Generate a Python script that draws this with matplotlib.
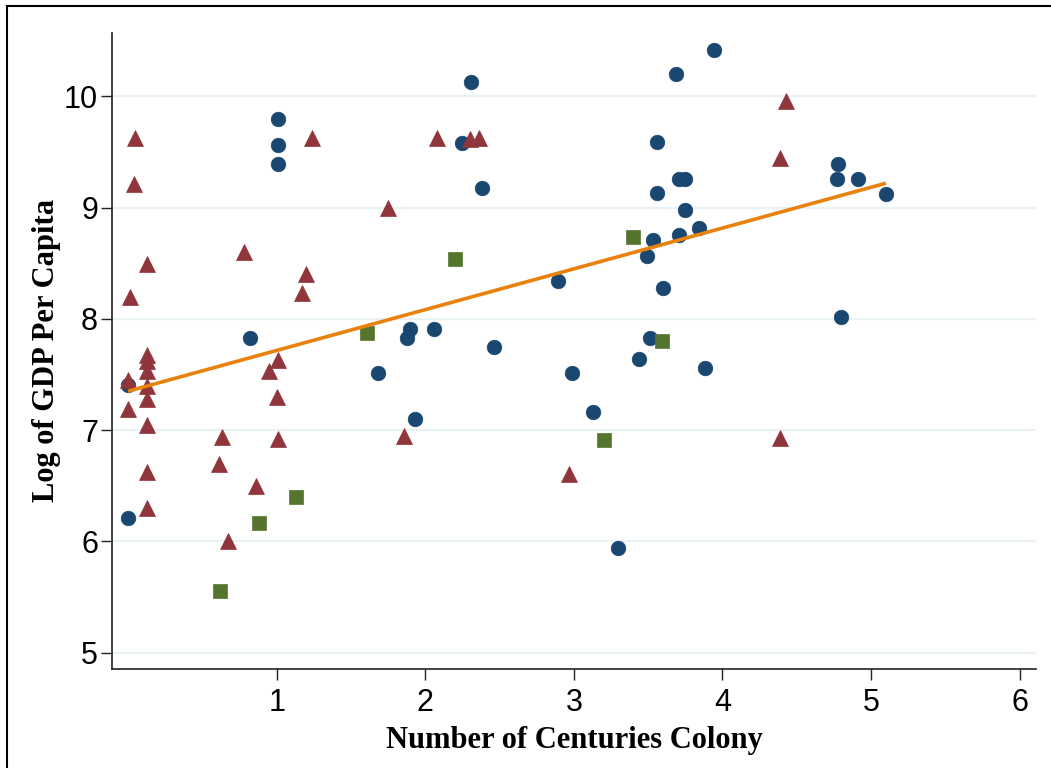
import matplotlib
matplotlib.use("Agg")
import matplotlib.pyplot as plt
from matplotlib.lines import Line2D

# ---- data ----
circle_x = [0.00, 0.00, 1.01, 1.01, 1.01, 0.82, 2.31, 2.25, 2.38, 1.90, 1.88, 2.06, 2.46,
            2.89, 1.68, 1.93, 2.99, 3.13, 3.30, 3.51, 3.44, 3.88, 3.94, 3.69, 3.56, 3.71,
            3.75, 3.56, 3.75, 3.84, 3.71, 3.53, 3.49, 3.60, 4.80, 4.78, 4.77, 4.91, 5.10]
circle_y = [6.21, 7.41, 9.80, 9.56, 9.39, 7.83, 10.13, 9.58, 9.18, 7.91, 7.83, 7.91, 7.75,
            8.34, 7.51, 7.10, 7.51, 7.16, 5.94, 7.83, 7.64, 7.56, 10.42, 10.20, 9.59, 9.26,
            9.26, 9.13, 8.98, 8.82, 8.75, 8.71, 8.57, 8.28, 8.02, 9.39, 9.26, 9.26, 9.12]

tri_x = [0.05, 0.04, 0.13, 0.01, 0.78, 1.20, 1.17, 1.24, 1.75, 2.08, 2.30, 2.36, 4.43,
         4.39, 4.39, 2.97, 1.86, 0.13, 0.13, 0.13, 0.00, 0.13, 0.13, 0.00, 0.13, 0.13,
         0.13, 1.01, 0.95, 1.00, 1.01, 0.63, 0.61, 0.86, 0.67]
tri_y = [9.63, 9.21, 8.49, 8.20, 8.60, 8.40, 8.23, 9.63, 9.00, 9.63, 9.62, 9.63, 9.96,
         9.45, 6.93, 6.61, 6.95, 7.68, 7.62, 7.53, 7.45, 7.40, 7.28, 7.19, 7.05, 6.62,
         6.30, 7.63, 7.53, 7.30, 6.92, 6.94, 6.70, 6.50, 6.00]

sq_x = [0.62, 0.88, 1.13, 1.61, 2.20, 3.40, 3.59, 3.20]
sq_y = [5.55, 6.17, 6.40, 7.87, 8.54, 8.74, 7.80, 6.91]

fit_x = [0.00, 5.10]
fit_y = [7.35, 9.22]

x_ticks = [1, 2, 3, 4, 5, 6]
y_ticks = [5, 6, 7, 8, 9, 10]

x_label = "Number of Centuries Colony"
y_label = "Log of GDP Per Capita"

# ---- styling ----
NAVY = "#1a476f"
MAROON = "#90353b"
GREEN = "#55752f"
ORANGE = "#e8820c"
GRID = "#eaf2f3"

fig = plt.figure(figsize=(10.51, 7.68), dpi=100)
fig.patch.set_facecolor("white")
ax = fig.add_axes([112/1051, 1 - 668.7/768, (1036 - 112)/1051, (668.7 - 33)/768])

ax.plot(circle_x, circle_y, linestyle="none", marker="o", ms=10.5,
        mfc=NAVY, mec=NAVY, mew=0.5, zorder=3)
ax.plot(tri_x, tri_y, linestyle="none", marker="^", ms=11.5,
        mfc=MAROON, mec=MAROON, mew=0.5, zorder=4)
ax.plot(sq_x, sq_y, linestyle="none", marker="s", ms=10,
        mfc=GREEN, mec=GREEN, mew=0.5, zorder=5)
ax.plot(fit_x, fit_y, color=ORANGE, lw=2.6, solid_capstyle="butt", zorder=6)

ax.set_xlim(-0.108, 6.11)
ax.set_ylim(4.856, 10.57)
ax.set_xticks(x_ticks)
ax.set_yticks(y_ticks)
ax.set_xticklabels([str(v) for v in x_ticks])
ax.set_yticklabels([str(v) for v in y_ticks])

ax.grid(axis="y", color=GRID, lw=1.6, zorder=0)
ax.set_axisbelow(True)

for s in ["top", "right"]:
    ax.spines[s].set_visible(False)
for s in ["left", "bottom"]:
    ax.spines[s].set_color("#222222")
    ax.spines[s].set_linewidth(1.2)

ax.tick_params(axis="both", direction="out", length=8, width=1.0, color="#222222",
               labelsize=22)
ax.tick_params(axis="x", pad=6)
ax.tick_params(axis="y", pad=2)
for lab in ax.get_xticklabels() + ax.get_yticklabels():
    lab.set_family(["Liberation Sans", "DejaVu Sans"])

ax.set_xlabel(x_label, family=["Liberation Serif", "DejaVu Serif"], fontweight="bold",
              fontsize=22, labelpad=6)
ax.set_ylabel(y_label, family=["Liberation Serif", "DejaVu Serif"], fontweight="bold",
              fontsize=22, labelpad=2)

# outer frame (top and left edges visible in the reference)
fig.add_artist(Line2D([7/1051, 1.0], [1 - 6/768, 1 - 6/768], transform=fig.transFigure,
                      color="black", lw=1.5))
fig.add_artist(Line2D([7/1051, 7/1051], [0.0, 1 - 6/768], transform=fig.transFigure,
                      color="black", lw=1.5))

fig.savefig("out.png", dpi=100, facecolor="white")
